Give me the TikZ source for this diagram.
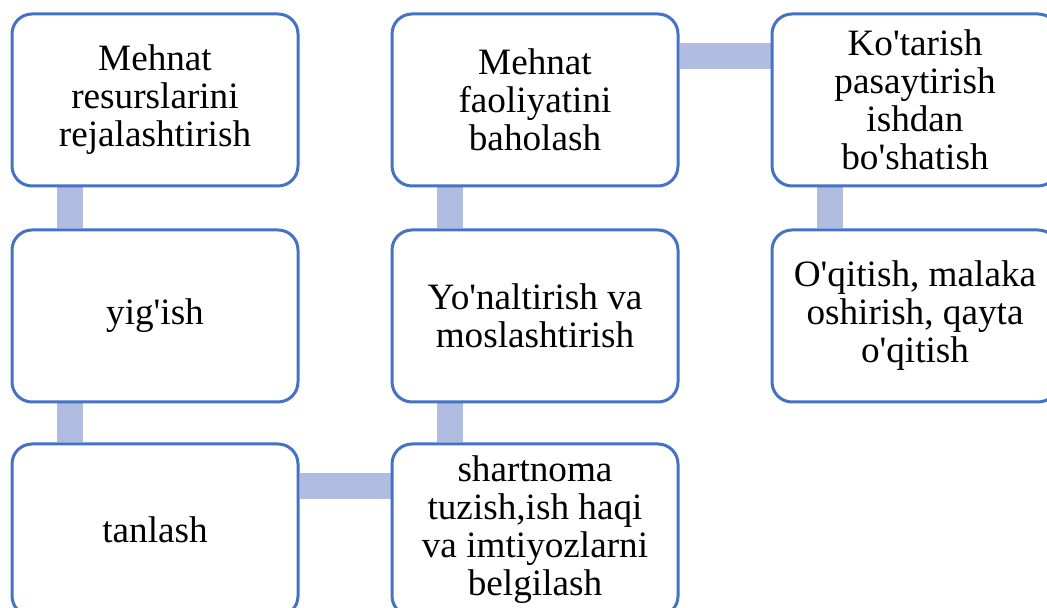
\documentclass[tikz,border=0pt]{standalone}
\usepackage{fontspec}
\setmainfont{Liberation Serif}[Ligatures=TeXOff]
\usetikzlibrary{backgrounds}
\definecolor{sa_blue}{RGB}{68, 114, 196}
\definecolor{sa_bar}{RGB}{176, 188, 224}
\tikzstyle{bx}=[rectangle,rounded corners=10pt,fill=white,draw=sa_blue,
  line width=1.5pt,inner sep=0pt,minimum width=143pt,minimum height=86pt,
  align=center,font=\fontsize{18.6}{19}\selectfont]
\tikzstyle{br}=[draw=sa_bar,line width=13pt]

\begin{document}
\begin{tikzpicture}[x=0.5pt,y=0.5pt]
    \useasboundingbox (0,0) rectangle (1047,608);
    \clip (0,0) rectangle (1047,608);
    \node [style=bx] (plan) at (155,508) {Mehnat\\resurslarini\\rejalashtirish};
    \node [style=bx] (yigish) at (155,292) {yig'ish};
    \node [style=bx] (tanlash) at (155,78) {tanlash};
    \node [style=bx] (shartnoma) at (535,78) {shartnoma\\tuzish,ish haqi\\va imtiyozlarni\\belgilash};
    \node [style=bx] (yonalt) at (535,292) {Yo'naltirish va\\moslashtirish};
    \node [style=bx] (baholash) at (535,508) {Mehnat\\faoliyatini\\baholash};
    \node [style=bx] (kotarish) at (915,508) {Ko'tarish\\pasaytirish\\ishdan\\bo'shatish};
    \node [style=bx] (oqitish) at (915,292) {O'qitish, malaka\\oshirish, qayta\\o'qitish};
    \begin{scope}[on background layer]
      \draw [style=br] ([xshift=-42.5pt]plan.south) to ([xshift=-42.5pt]yigish.north);
      \draw [style=br] ([xshift=-42.5pt]yigish.south) to ([xshift=-42.5pt]tanlash.north);
      \draw [style=br] ([yshift=22pt]tanlash.east) to ([yshift=22pt]shartnoma.west);
      \draw [style=br] ([xshift=-42.5pt]shartnoma.north) to ([xshift=-42.5pt]yonalt.south);
      \draw [style=br] ([xshift=-42.5pt]yonalt.north) to ([xshift=-42.5pt]baholash.south);
      \draw [style=br] ([yshift=22pt]baholash.east) to ([yshift=22pt]kotarish.west);
      \draw [style=br] ([xshift=-42.5pt]kotarish.south) to ([xshift=-42.5pt]oqitish.north);
    \end{scope}
  \end{tikzpicture}
\end{document}
